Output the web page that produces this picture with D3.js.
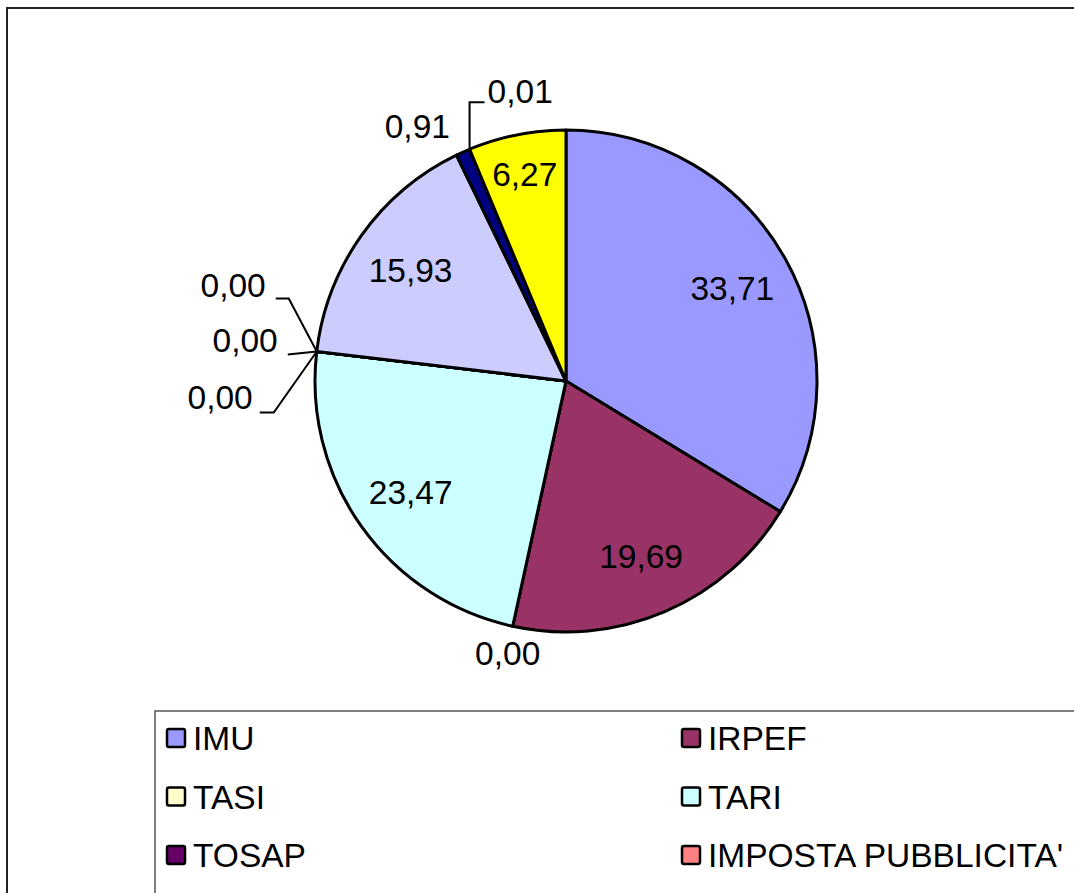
<!DOCTYPE html>
<html>
<head>
<meta charset="utf-8">
<script src="https://cdn.jsdelivr.net/npm/d3@7"></script>
<style>
  body { margin: 0; background: #fff; }
  svg text { font-family: "Liberation Sans", Arial, sans-serif; }
</style>
</head>
<body>
<div id="chart"></div>
<script>
// voci (legend shows only the first six, the rest fall below the frame)
var categories = ["IMU", "IRPEF", "TASI", "TARI", "TOSAP", "IMPOSTA PUBBLICITA'",
                  "Voce 7", "Voce 8", "Voce 9", "Voce 10", "Voce 11"];
var values = [33.71, 19.69, 0.00, 23.47, 0.00, 0.00, 0.00, 15.93, 0.91, 0.01, 6.27];
var colors = ["#9999FF", "#993366", "#FFFFCC", "#CCFFFF", "#660066", "#FF8080",
              "#0066CC", "#CCCCFF", "#000080", "#FF00FF", "#FFFF00"];

var width = 1074, height = 893;
var cx = 566, cy = 381, radius = 251;
var fontSize = 33.5;

var fmt = function (v) { return d3.format(".2f")(v).replace(".", ","); };

var svg = d3.select("#chart").append("svg")
  .attr("width", width)
  .attr("height", height);

// chart frame
svg.append("rect")
  .attr("x", 7).attr("y", 8)
  .attr("width", 1100).attr("height", 1000)
  .attr("fill", "none")
  .attr("stroke", "#222")
  .attr("stroke-width", 2);

var pie = d3.pie().sort(null).value(function (d) { return d; });
var arcs = pie(values);
var arc = d3.arc().innerRadius(0).outerRadius(radius);

var g = svg.append("g").attr("transform", "translate(" + cx + "," + cy + ")");

g.selectAll("path.slice")
  .data(arcs)
  .enter().append("path")
  .attr("class", "slice")
  .attr("d", arc)
  .attr("fill", function (d, i) { return colors[i]; })
  .attr("stroke", "#000")
  .attr("stroke-width", 3)
  .attr("stroke-linejoin", "round");

function mid(d) { return (d.startAngle + d.endAngle) / 2; }
function edge(d, r) {
  var a = mid(d);
  return [r * Math.sin(a), -r * Math.cos(a)];
}

// inside labels for the big slices
var inside = arcs.filter(function (d) { return d.value >= 5; });
g.selectAll("text.inlabel")
  .data(inside)
  .enter().append("text")
  .attr("class", "inlabel")
  .attr("text-anchor", "middle")
  .attr("dy", "0.36em")
  .attr("font-size", fontSize)
  .attr("x", function (d) { return edge(d, d.value < 10 ? radius * 0.84 : radius * 0.76)[0]; })
  .attr("y", function (d) { return edge(d, d.value < 10 ? radius * 0.84 : radius * 0.76)[1]; })
  .text(function (d) { return fmt(d.value); });

// outside labels for the small slices
var outside = arcs.filter(function (d) { return d.value < 5; });
var leader = d3.line();

// zero slices sharing the same angle get stacked
var groups = d3.group(outside, function (d) { return d.startAngle.toFixed(4); });
var stack = [
  { dx: -28, dy: -53, h: 13, gap: 10, by: -1 },
  { dx: -29, dy: 3, h: 0, gap: 10, by: -2 },
  { dx: -43, dy: 61, h: 14, gap: 7, by: -3 }
];

outside.forEach(function (d) {
  var p = edge(d, radius);
  var a = mid(d);
  var members = groups.get(d.startAngle.toFixed(4));
  var label = g.append("text").attr("font-size", fontSize).text(fmt(d.value));

  if (members.length > 1) {
    var s = stack[members.indexOf(d)];
    var e = [p[0] + s.dx, p[1] + s.dy];
    var end = [e[0] - s.h, e[1]];
    g.append("path")
      .attr("d", leader([p, e, end]))
      .attr("fill", "none").attr("stroke", "#000").attr("stroke-width", 2);
    label.attr("text-anchor", "end")
      .attr("x", end[0] - s.gap)
      .attr("y", e[1] + s.by);
  } else if (d.value > 0 && d.value < 0.1) {
    // tiny slice: leader up then to the right
    var e2 = [p[0], p[1] - 47];
    var end2 = [e2[0] + 15, e2[1]];
    g.append("path")
      .attr("d", leader([p, e2, end2]))
      .attr("fill", "none").attr("stroke", "#000").attr("stroke-width", 2);
    label.attr("text-anchor", "start")
      .attr("x", end2[0] + 3)
      .attr("y", e2[1] + 1);
  } else if (Math.cos(a) > 0) {
    // upper half, no leader
    label.attr("text-anchor", "end")
      .attr("x", p[0] - 13)
      .attr("y", p[1] - 14);
  } else {
    // lower half, no leader
    label.attr("text-anchor", "middle")
      .attr("x", p[0] - 5)
      .attr("y", p[1] + 39);
  }
});

// legend
var legend = svg.append("g");
legend.append("rect")
  .attr("x", 155).attr("y", 711)
  .attr("width", 1000).attr("height", 400)
  .attr("fill", "#fff")
  .attr("stroke", "#555")
  .attr("stroke-width", 1.5);

var rowY = function (i) { return 729 + Math.floor(i / 2) * 58.5; };
// rows below the bottom of the picture are cut off, as in the original
var shown = categories.filter(function (d, i) { return rowY(i) + 20 < height; });

var item = legend.selectAll("g.item")
  .data(shown)
  .enter().append("g")
  .attr("class", "item")
  .attr("transform", function (d, i) {
    return "translate(" + (167 + (i % 2) * 515) + "," + rowY(i) + ")";
  });

item.append("rect")
  .attr("width", 18).attr("height", 18)
  .attr("rx", 2)
  .attr("fill", function (d, i) { return colors[i]; })
  .attr("stroke", "#000")
  .attr("stroke-width", 2.5);

item.append("text")
  .attr("x", 26)
  .attr("y", 21)
  .attr("font-size", fontSize)
  .text(function (d) { return d; });
</script>
</body>
</html>
